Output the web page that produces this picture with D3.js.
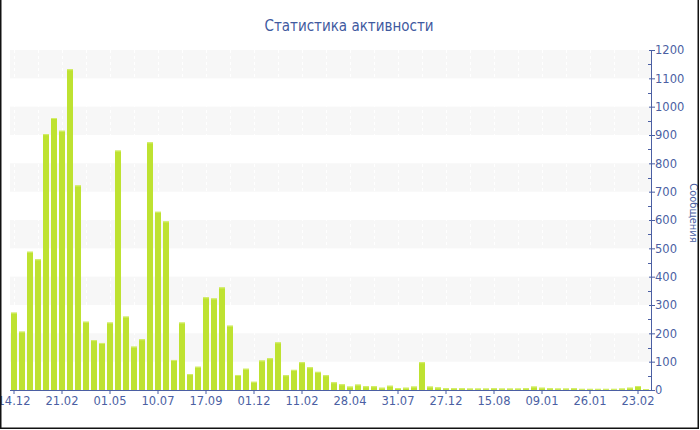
<!DOCTYPE html>
<html>
<head>
<meta charset="utf-8">
<script src="https://cdn.jsdelivr.net/npm/d3@7"></script>
<style>
  html, body { margin: 0; padding: 0; background: #fff; }
  svg { display: block; }
  text { font-family: Verdana, "DejaVu Sans", sans-serif; }
  .cond { font-family: "DejaVu Sans Condensed", "DejaVu Sans", sans-serif; font-stretch: condensed; }
</style>
</head>
<body>
<svg id="chart" width="700" height="430"></svg>
<script>
const title = "Статистика активности";
const yTitle = "Сообщения";
const tickLabels = ["14.12","21.02","01.05","10.07","17.09","01.12","11.02","28.04","31.07","27.12","15.08","09.01","26.01","23.02"];
const values = [
  273, 206, 488, 461, 903, 960, 915, 1132, 722, 241,
  176, 166, 238, 845, 259, 153, 179, 874, 629, 595,
  106, 238, 56, 82, 327, 323, 362, 227, 53, 75,
  29, 104, 112, 168, 52, 71, 98, 80, 64, 52,
  27, 20, 12, 19, 13, 13, 8, 15, 7, 8,
  12, 98, 12, 9, 6, 6, 6, 5, 5, 5,
  6, 5, 5, 5, 6, 12, 8, 6, 5, 5,
  6, 4, 4, 4, 4, 4, 5, 8, 14, 3
];
const yTicks = d3.range(0, 1201, 100);

(function () {
const svg = d3.select("#chart");
const pL = 10, pR = 650, pT = 50, pB = 390;
const axisColor = "#4b5fa3";

const x = d3.scaleBand().domain(d3.range(values.length)).range([pL, pR])
  .paddingInner(0.25).paddingOuter(0.125);
const y = d3.scaleLinear().domain([0, 1200]).range([pB, pT]);

// alternating bands
const bands = d3.range(100, 1200, 200);
svg.append("g").selectAll("rect").data(bands).join("rect")
  .attr("x", pL).attr("width", pR - pL + 1)
  .attr("y", d => y(d + 100)).attr("height", d => y(d) - y(d + 100))
  .attr("fill", "#f7f7f7");

// faint vertical dashed grid
const gridIdx = d3.range(0, values.length, 3);
svg.append("g").selectAll("line").data(gridIdx).join("line")
  .attr("x1", d => Math.round(x(d) + x.bandwidth() / 2) + 0.5)
  .attr("x2", d => Math.round(x(d) + x.bandwidth() / 2) + 0.5)
  .attr("y1", pT).attr("y2", pB)
  .attr("stroke", "#ffffff").attr("stroke-dasharray", "3,3");

// bars
svg.append("g").selectAll("rect").data(values).join("rect")
  .attr("x", (d, i) => x(i)).attr("width", x.bandwidth())
  .attr("y", d => y(d)).attr("height", d => pB - y(d))
  .attr("fill", "#bee231");
svg.append("g").selectAll("rect").data(values).join("rect")
  .attr("x", (d, i) => x(i)).attr("width", x.bandwidth())
  .attr("y", d => y(d)).attr("height", 1)
  .attr("fill", "#d4ee6a");

// x axis
const xAxis = d3.axisBottom(x)
  .tickValues(d3.range(0, values.length, 6))
  .tickFormat(i => tickLabels[i / 6])
  .tickSize(4).tickSizeOuter(0);
const gx = svg.append("g").attr("transform", `translate(0,${pB})`).call(xAxis);
gx.attr("font-family", null).attr("font-size", null);
gx.select(".domain").attr("stroke", axisColor).attr("d", `M${pL},0.5H${pR + 1}`);
gx.selectAll(".tick line").attr("stroke", axisColor);
gx.selectAll(".tick text").attr("fill", axisColor).attr("font-size", 11.5)
  .attr("dy", 0).attr("y", 15);

// right y axis
const yAxis = d3.axisRight(y).tickValues(yTicks).tickFormat(d3.format("d"))
  .tickSize(4).tickSizeOuter(0).tickPadding(0);
const gy = svg.append("g").attr("transform", `translate(${pR + 1},0)`).call(yAxis);
gy.attr("font-family", null).attr("font-size", null);
gy.select(".domain").attr("stroke", axisColor);
gy.selectAll(".tick line").attr("stroke", axisColor).attr("x1", -2);
gy.selectAll(".tick text").attr("fill", axisColor).attr("font-size", 11.5);
// minor ticks
svg.append("g").selectAll("line").data(d3.range(50, 1200, 100)).join("line")
  .attr("x1", pR + 1 - 3).attr("x2", pR + 1)
  .attr("y1", d => Math.round(y(d)) + 0.5).attr("y2", d => Math.round(y(d)) + 0.5)
  .attr("stroke", axisColor);

// y title
svg.append("text").attr("class", "cond")
  .attr("transform", `translate(${693},${213}) rotate(90)`)
  .attr("text-anchor", "middle").attr("dominant-baseline", "central")
  .attr("fill", axisColor).attr("font-size", 11).text(yTitle);

// title
svg.append("text").attr("class", "cond").attr("x", 349).attr("y", 31).attr("text-anchor", "middle")
  .attr("fill", "#3f5a9f").attr("font-size", 15).text(title);

// frame (left, bottom, right)
svg.append("path").attr("d", "M0.75,0V428.25H698.25V0")
  .attr("fill", "none").attr("stroke", "#111").attr("stroke-width", 1.5);
})();
</script>
</body>
</html>
